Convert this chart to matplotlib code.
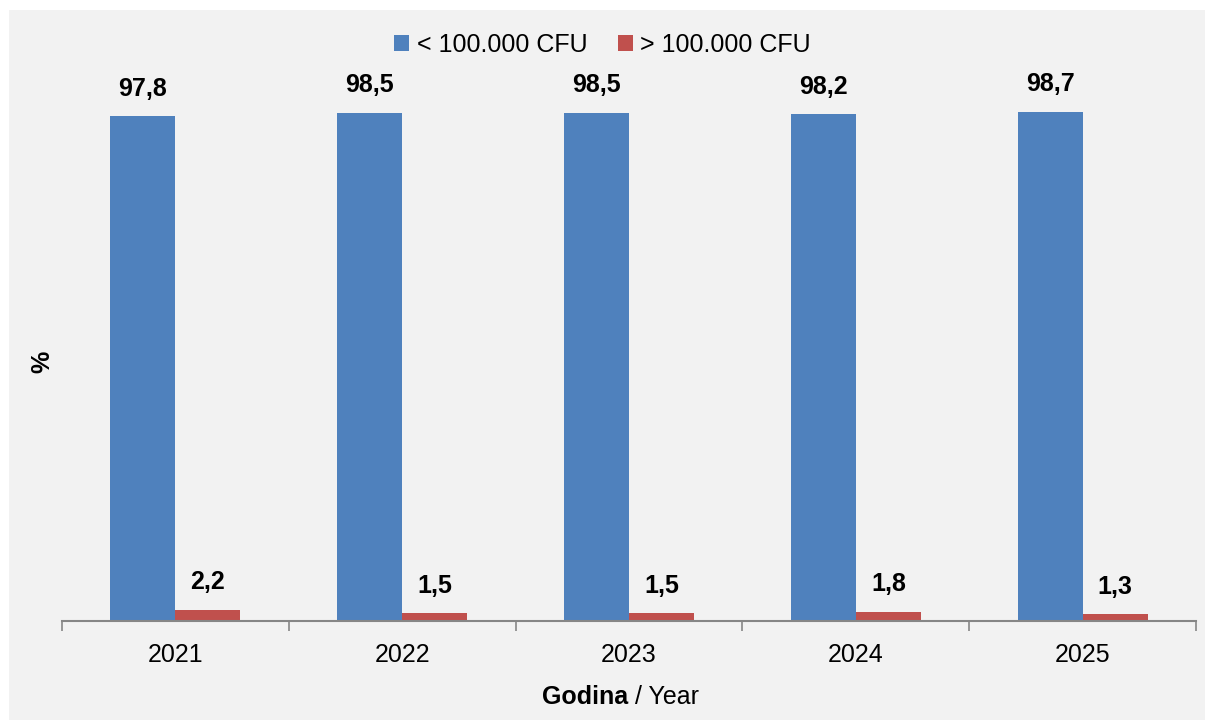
import numpy as np
import matplotlib.pyplot as plt
from matplotlib.patches import Rectangle

plt.rcParams['font.family'] = ['Liberation Sans', 'DejaVu Sans']

years = ["2021", "2022", "2023", "2024", "2025"]
below = [97.8, 98.5, 98.5, 98.2, 98.7]
above = [2.2, 1.5, 1.5, 1.8, 1.3]
labels_below = ["97,8", "98,5", "98,5", "98,2", "98,7"]
labels_above = ["2,2", "1,5", "1,5", "1,8", "1,3"]

blue = "#4f81bd"
red = "#c0504d"

fig = plt.figure(figsize=(12.05, 7.2), dpi=100)
fig.patches.append(Rectangle((9 / 1205, 0), 1 - 9 / 1205, 1 - 10 / 720,
                             transform=fig.transFigure, facecolor="#f2f2f2",
                             edgecolor="none", zorder=-10))

ax = fig.add_axes([62 / 1205, (720 - 621) / 720, 1134 / 1205, 516 / 720])
ax.set_facecolor("none")

x = np.arange(len(years))
w = 0.287
b1 = ax.bar(x - w / 2, below, w, color=blue, label="< 100.000 CFU")
b2 = ax.bar(x + w / 2, above, w, color=red, label="> 100.000 CFU")

for bars, labs in ((b1, labels_below), (b2, labels_above)):
    for rect, lab in zip(bars, labs):
        ax.annotate(lab, (rect.get_x() + rect.get_width() / 2, rect.get_height()),
                    xytext=(0, 11), textcoords="offset points", ha="center",
                    va="bottom", fontsize=18, fontweight="bold", annotation_clip=False)

ax.set_xlim(-0.5, len(years) - 0.5)
ax.set_ylim(0, 100)
ax.set_xticks(x)
ax.set_xticklabels(years, fontsize=18)
ax.tick_params(axis="x", which="major", length=0, pad=16)
ax.set_xticks(np.arange(-0.5, len(years)), minor=True)
ax.tick_params(axis="x", which="minor", length=7, width=1.2, color="#868686")
ax.set_yticks([])
for s in ("left", "right", "top"):
    ax.spines[s].set_visible(False)
ax.spines["bottom"].set_color("#868686")
ax.spines["bottom"].set_linewidth(1.5)

fig.text(628 / 1205, 1 - 697 / 720, "Godina", ha="right", va="center",
         fontsize=18, fontweight="bold")
fig.text(628 / 1205, 1 - 697 / 720, " / Year", ha="left", va="center", fontsize=18)
fig.text(42 / 1205, 1 - 362 / 720, "%", rotation=90, ha="center", va="center",
         fontsize=18, fontweight="bold")

fig.legend(loc="center", bbox_to_anchor=(0.5, 1 - 45 / 720), ncol=2, frameon=False,
           fontsize=18, handlelength=0.6, handleheight=0.6, handletextpad=0.3,
           columnspacing=1.2)

fig.savefig("out.png", dpi=100, facecolor="white")
